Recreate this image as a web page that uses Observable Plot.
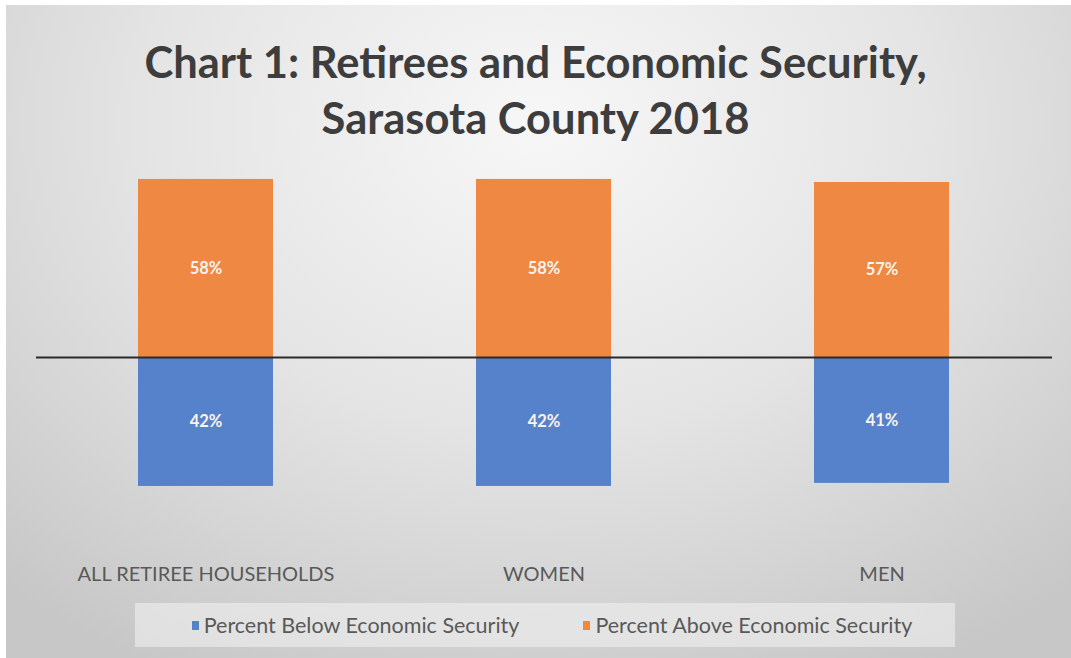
<!DOCTYPE html>
<html>
<head>
<meta charset="utf-8">
<script src="https://cdn.jsdelivr.net/npm/d3@7"></script>
<script src="https://cdn.jsdelivr.net/npm/@observablehq/plot@0.6"></script>
<style>
  html, body { margin: 0; padding: 0; }
  #wrap {
    position: relative; width: 1071px; height: 658px; box-sizing: border-box;
    border-top: 5px solid #fff; border-left: 6px solid #fff;
    background: radial-gradient(ellipse 75% 95% at 50% 18%, #f7f7f7 0%, #e4e4e4 50%, #c7c7c7 100%);
    font-family: Lato, "Open Sans", sans-serif; overflow: hidden;
  }
  #title {
    position: absolute; left: -6px; top: -5px; width: 1071px; height: 165px;
    text-align: center; color: #3d3d3d; font-weight: bold; font-size: 43.5px; line-height: 56px;
    padding-top: 33px; box-sizing: border-box;
  }
  #chart { position: absolute; left: -6px; top: 160px; }
  #legend {
    position: absolute; left: 129px; top: 598px; width: 820px; height: 44px; box-sizing: border-box;
    padding-left: 14px;
    background: rgba(240,240,240,0.6); display: flex; align-items: center; justify-content: center;
    gap: 64px; color: #595959; font-size: 21.5px;
  }
  .item { display: flex; align-items: center; }
  .sw { width: 7px; height: 9px; margin-right: 5px; }
</style>
</head>
<body>
<div id="wrap">
  <div id="title">Chart 1: Retirees and Economic Security,<br>Sarasota County 2018</div>
  <div id="chart"></div>
  <div id="legend"></div>
</div>
<script>
const categories = ["ALL RETIREE HOUSEHOLDS", "WOMEN", "MEN"];
const seriesNames = ["Percent Below Economic Security", "Percent Above Economic Security"];
const belowValues = [42, 42, 41];
const aboveValues = [58, 58, 57];
const seriesColors = ["#5681cb", "#ee8842"];

const rows = [];
categories.forEach((c, i) => {
  rows.push({cat: c, series: seriesNames[1], value: aboveValues[i], label: aboveValues[i] + "%"});
  rows.push({cat: c, series: seriesNames[0], value: -belowValues[i], label: belowValues[i] + "%"});
});

const k = 3.07, zeroY = 192;
const plot = Plot.plot({
  width: 1071,
  height: 438,
  marginLeft: 36,
  marginRight: 19,
  marginTop: 0,
  marginBottom: 40,
  style: {background: "transparent", fontFamily: "Lato, sans-serif"},
  x: {domain: categories, paddingInner: 0.6, paddingOuter: 0.3, label: null},
  y: {domain: [-42, 58], range: [zeroY + 42 * k, zeroY - 58 * k], axis: null},
  color: {domain: seriesNames, range: seriesColors},
  marks: [
    Plot.barY(rows, {x: "cat", y1: 0, y2: "value", fill: "series"}),
    Plot.ruleY([0], {stroke: "#2a2a2a", strokeWidth: 2}),
    Plot.text(rows, {x: "cat", y: d => d.value / 2, text: "label", fill: "#fbf3ee", fontSize: 16.5, fontWeight: "bold"}),
    Plot.axisX({tickSize: 0, tickPadding: 3, fontSize: 20, fill: "#595959", label: null})
  ]
});
document.getElementById("chart").appendChild(plot);

const legend = document.getElementById("legend");
seriesNames.forEach((s, i) => {
  const it = document.createElement("div");
  it.className = "item";
  const sw = document.createElement("span");
  sw.className = "sw";
  sw.style.background = seriesColors[i];
  const t = document.createElement("span");
  t.textContent = s;
  it.appendChild(sw); it.appendChild(t);
  legend.appendChild(it);
});
</script>
</body>
</html>
